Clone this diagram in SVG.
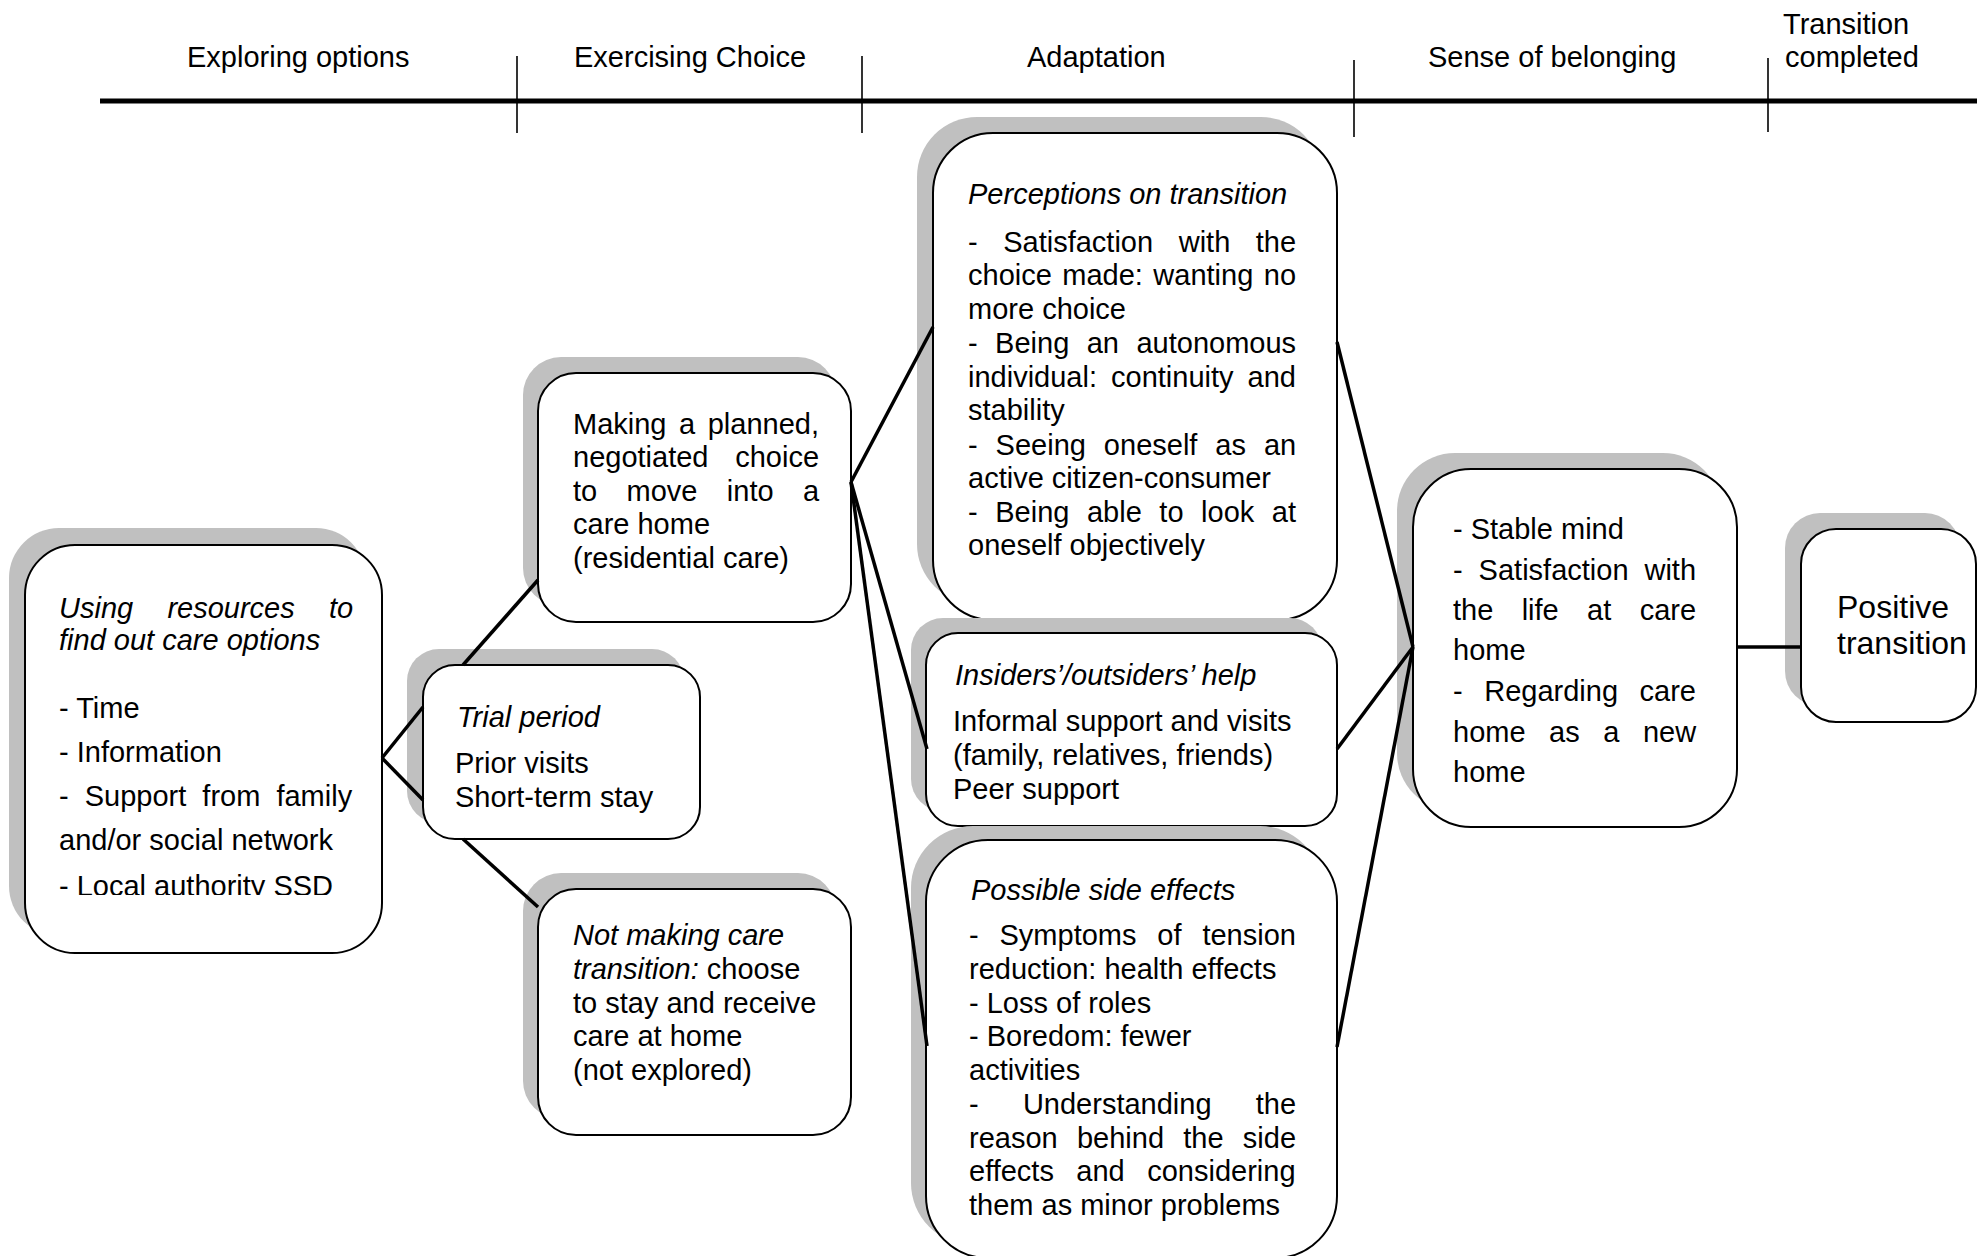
<svg xmlns="http://www.w3.org/2000/svg" width="1977" height="1256" viewBox="0 0 1977 1256">
  <defs>
    <style>
      .t{font-family:"Liberation Sans",Arial,Helvetica,sans-serif;font-size:29px;fill:#000}
      .i{font-style:italic}
      .big{font-size:32px}
      .box{fill:#fff;stroke:#000;stroke-width:2}
      .sh{fill:#c0c0c0}
      .conn line{stroke:#000;stroke-width:3.5}
      .axis line{stroke:#000;stroke-width:1.6}
      .axis line.main{stroke-width:5}
    </style>
    <clipPath id="clipRes"><rect x="0" y="500" width="400" height="395"/></clipPath>
  </defs>
  <rect width="1977" height="1256" fill="#fff"/>

  <!-- timeline with phase labels -->
  <g id="timeline" class="axis">
    <line class="main" x1="100" y1="101" x2="1977" y2="101"/>
    <line x1="517" y1="56" x2="517" y2="133"/>
    <line x1="862" y1="56" x2="862" y2="133"/>
    <line x1="1354" y1="60" x2="1354" y2="137"/>
    <line x1="1768" y1="58" x2="1768" y2="132"/>
    <text class="t" x="187" y="67">Exploring options</text>
    <text class="t" x="574" y="67">Exercising Choice</text>
    <text class="t" x="1027" y="67">Adaptation</text>
    <text class="t" x="1428" y="67">Sense of belonging</text>
    <text class="t" x="1783" y="34">Transition</text>
    <text class="t" x="1785" y="67">completed</text>
  </g>

  <g id="node-resources">
    <rect class="sh" x="9" y="528" width="357" height="408" rx="50"/>
    <rect class="box" x="25" y="545" width="357" height="408" rx="50"/>
    <text class="t i" x="59" y="618" style="word-spacing:26.2px">Using resources to</text>
    <text class="t i" x="59" y="650">find out care options</text>
    <text class="t" x="59" y="718">- Time</text>
    <text class="t" x="59" y="762">- Information</text>
    <text class="t" x="59" y="806" style="word-spacing:8px">- Support from family</text>
    <text class="t" x="59" y="850">and/or social network</text>
    <text class="t" x="59" y="896" clip-path="url(#clipRes)">- Local authority SSD</text>
  </g>

  <g id="node-planned">
    <rect class="sh" x="523" y="357" width="313" height="249" rx="38"/>
    <rect class="box" x="538" y="373" width="313" height="249" rx="38"/>
    <text class="t" x="573" y="434" style="word-spacing:4.5px">Making a planned,</text>
    <text class="t" x="573" y="467" style="word-spacing:18.7px">negotiated choice</text>
    <text class="t" x="573" y="501" style="word-spacing:21.3px">to move into a</text>
    <text class="t" x="573" y="534">care home</text>
    <text class="t" x="573" y="568">(residential care)</text>
  </g>

  <g id="node-trial">
    <rect class="sh" x="407" y="649" width="277" height="174" rx="32"/>
    <rect class="box" x="423" y="665" width="277" height="174" rx="32"/>
    <text class="t i" x="457" y="727">Trial period</text>
    <text class="t" x="455" y="773">Prior visits</text>
    <text class="t" x="455" y="807">Short-term stay</text>
  </g>

  <g id="node-not-making">
    <rect class="sh" x="523" y="873" width="313" height="246" rx="38"/>
    <rect class="box" x="538" y="889" width="313" height="246" rx="38"/>
    <text class="t i" x="573" y="945">Not making care</text>
    <text class="t" x="573" y="979"><tspan class="i">transition:</tspan> choose</text>
    <text class="t" x="573" y="1013">to stay and receive</text>
    <text class="t" x="573" y="1046">care at home</text>
    <text class="t" x="573" y="1080">(not explored)</text>
  </g>

  <g id="node-perceptions">
    <rect class="sh" x="917" y="117" width="404" height="487" rx="60"/>
    <rect class="box" x="933" y="133" width="404" height="487" rx="60"/>
    <text class="t i" x="968" y="204">Perceptions on transition</text>
    <text class="t" x="968" y="252" style="word-spacing:17.5px">- Satisfaction with the</text>
    <text class="t" x="968" y="285" style="word-spacing:2.4px">choice made: wanting no</text>
    <text class="t" x="968" y="319">more choice</text>
    <text class="t" x="968" y="353" style="word-spacing:9.4px">- Being an autonomous</text>
    <text class="t" x="968" y="387" style="word-spacing:6px">individual: continuity and</text>
    <text class="t" x="968" y="420">stability</text>
    <text class="t" x="968" y="455" style="word-spacing:9.9px">- Seeing oneself as an</text>
    <text class="t" x="968" y="488">active citizen-consumer</text>
    <text class="t" x="968" y="522" style="word-spacing:9.5px">- Being able to look at</text>
    <text class="t" x="968" y="555">oneself objectively</text>
  </g>

  <g id="node-help">
    <rect class="sh" x="911" y="618" width="411" height="193" rx="32"/>
    <rect class="box" x="926" y="633" width="411" height="193" rx="32"/>
    <text class="t i" x="955" y="685">Insiders’/outsiders’ help</text>
    <text class="t" x="953" y="731">Informal support and visits</text>
    <text class="t" x="953" y="765">(family, relatives, friends)</text>
    <text class="t" x="953" y="799">Peer support</text>
  </g>

  <g id="node-side-effects">
    <rect class="sh" x="911" y="826" width="411" height="419" rx="62"/>
    <rect class="box" x="926" y="840" width="411" height="418" rx="62"/>
    <text class="t i" x="971" y="900">Possible side effects</text>
    <text class="t" x="969" y="945" style="word-spacing:12.8px">- Symptoms of tension</text>
    <text class="t" x="969" y="979">reduction: health effects</text>
    <text class="t" x="969" y="1013">- Loss of roles</text>
    <text class="t" x="969" y="1046">- Boredom: fewer</text>
    <text class="t" x="969" y="1080">activities</text>
    <text class="t" x="969" y="1114" style="word-spacing:36.2px">- Understanding the</text>
    <text class="t" x="969" y="1148" style="word-spacing:11.2px">reason behind the side</text>
    <text class="t" x="969" y="1181" style="word-spacing:14.4px">effects and considering</text>
    <text class="t" x="969" y="1215">them as minor problems</text>
  </g>

  <g id="node-belonging">
    <rect class="sh" x="1397" y="453" width="324" height="358" rx="58"/>
    <rect class="box" x="1413" y="469" width="324" height="358" rx="58"/>
    <text class="t" x="1453" y="539">- Stable mind</text>
    <text class="t" x="1453" y="580" style="word-spacing:7.9px">- Satisfaction with</text>
    <text class="t" x="1453" y="620" style="word-spacing:20.3px">the life at care</text>
    <text class="t" x="1453" y="660">home</text>
    <text class="t" x="1453" y="701" style="word-spacing:13.5px">- Regarding care</text>
    <text class="t" x="1453" y="742" style="word-spacing:15.5px">home as a new</text>
    <text class="t" x="1453" y="782">home</text>
  </g>

  <g id="node-positive">
    <rect class="sh" x="1785" y="513" width="175" height="193" rx="35"/>
    <rect class="box" x="1801" y="529" width="175" height="193" rx="35"/>
    <text class="t big" x="1837" y="618">Positive</text>
    <text class="t big" x="1837" y="654">transition</text>
  </g>

  <!-- connectors between stages -->
  <g id="connectors" class="conn">
    <line x1="382" y1="758" x2="423" y2="707"/>
    <line x1="382" y1="758" x2="423" y2="800"/>
    <line x1="463" y1="665" x2="538" y2="580"/>
    <line x1="463" y1="839" x2="538" y2="907"/>
    <line x1="851" y1="482" x2="933" y2="327"/>
    <line x1="851" y1="482" x2="927" y2="749"/>
    <line x1="851" y1="482" x2="927" y2="1046"/>
    <line x1="1337" y1="342" x2="1413" y2="647"/>
    <line x1="1337" y1="749" x2="1413" y2="647"/>
    <line x1="1337" y1="1047" x2="1413" y2="647"/>
    <line x1="1737" y1="647" x2="1801" y2="647"/>
  </g>
</svg>
